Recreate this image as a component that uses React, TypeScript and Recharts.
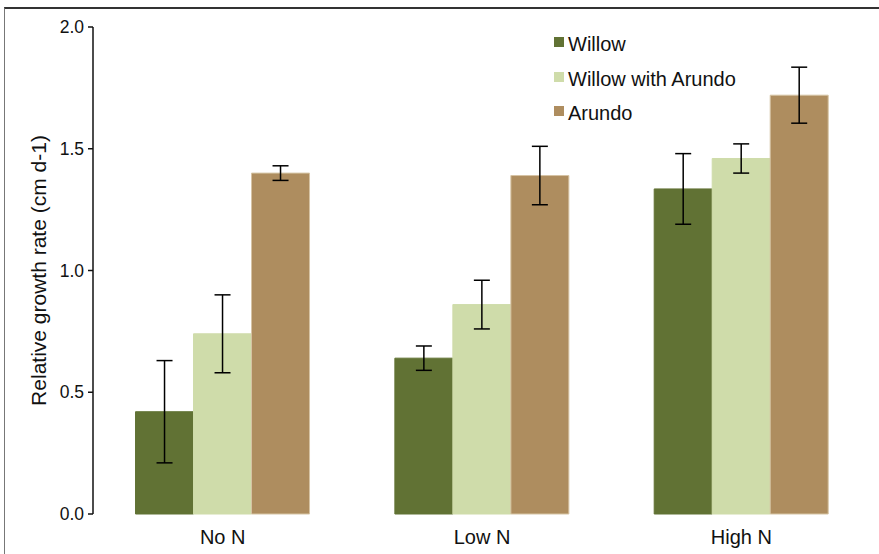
import { BarChart, Bar, XAxis, YAxis, ErrorBar } from 'recharts';

const categories = ['No N', 'Low N', 'High N'];
const willow = [0.42, 0.64, 1.335];
const willowErr = [0.21, 0.05, 0.145];
const willowArundo = [0.74, 0.86, 1.46];
const willowArundoErr = [0.16, 0.1, 0.06];
const arundo = [1.4, 1.39, 1.72];
const arundoErr = [0.03, 0.12, 0.115];
const yTicks = [0, 0.5, 1.0, 1.5, 2.0];

const SERIES = [
  { key: 'willow', name: 'Willow', color: '#617234', stroke: '#617234' },
  { key: 'willowArundo', name: 'Willow with Arundo', color: '#cfdcaa', stroke: '#cfdcaa' },
  { key: 'arundo', name: 'Arundo', color: '#ae8d5f', stroke: '#d6c4a4' },
];

const data = categories.map((name, i) => ({
  name,
  idx: i + 0.5,
  willow: willow[i],
  willowErr: willowErr[i],
  willowArundo: willowArundo[i],
  willowArundoErr: willowArundoErr[i],
  arundo: arundo[i],
  arundoErr: arundoErr[i],
}));

const FONT = 'Liberation Sans, Arial, Helvetica, sans-serif';

function LegendBox() {
  return (
    <div style={{ position: 'absolute', left: 554, top: 27, fontFamily: FONT, fontSize: 20, color: '#111', lineHeight: 1 }}>
      {SERIES.map((s) => (
        <div key={s.key} style={{ display: 'flex', alignItems: 'center', height: 34.5 }}>
          <span style={{ display: 'inline-block', width: 10, height: 10, background: s.color, marginRight: 4, position: 'relative', top: -2 }} />
          <span>{s.name}</span>
        </div>
      ))}
    </div>
  );
}

export default function App() {
  return (
    <div style={{ position: 'absolute', left: 0, top: 0, width: 879, height: 554, background: '#fff', overflow: 'hidden' }}>
      <div style={{ position: 'absolute', left: 4, top: 7, right: 0, bottom: 0, borderTop: '2px solid #333', borderLeft: '1.5px solid #777' }} />
      <BarChart
        width={879}
        height={554}
        data={data}
        margin={{ top: 27, right: 8, bottom: 0, left: 0 }}
        barCategoryGap="16.4%"
        barGap={0}
        style={{ position: 'absolute', left: 0, top: 0 }}
      >
        <XAxis
          xAxisId="edge"
          type="number"
          dataKey="idx"
          domain={[0, 3]}
          ticks={[0, 1, 2, 3]}
          height={0}
          tick={false}
          tickSize={5}
          stroke="#111"
          strokeWidth={1.5}
        />
        <XAxis
          dataKey="name"
          height={40}
          axisLine={false}
          tickLine={false}
          tickMargin={10}
          tick={{ fontSize: 20, fill: '#111', fontFamily: FONT }}
        />
        <YAxis
          width={93}
          domain={[0, 2]}
          ticks={yTicks}
          tickFormatter={(v: number) => v.toFixed(1)}
          tickSize={5}
          tickMargin={4}
          stroke="#111"
          strokeWidth={1.5}
          tick={{ fontSize: 17.5, fill: '#111', fontFamily: FONT }}
          label={{
            value: 'Relative growth rate (cm d-1)',
            angle: -90,
            position: 'insideLeft',
            dx: 34,
            style: { fontSize: 21, fill: '#111', fontFamily: FONT, textAnchor: 'middle' },
          }}
        />
        {SERIES.map((s) => (
          <Bar key={s.key} dataKey={s.key} name={s.name} fill={s.color} stroke={s.stroke} strokeWidth={1} isAnimationActive={false}>
            <ErrorBar dataKey={`${s.key}Err`} width={8} stroke="#000" strokeWidth={1.5} />
          </Bar>
        ))}
      </BarChart>
      <LegendBox />
    </div>
  );
}
